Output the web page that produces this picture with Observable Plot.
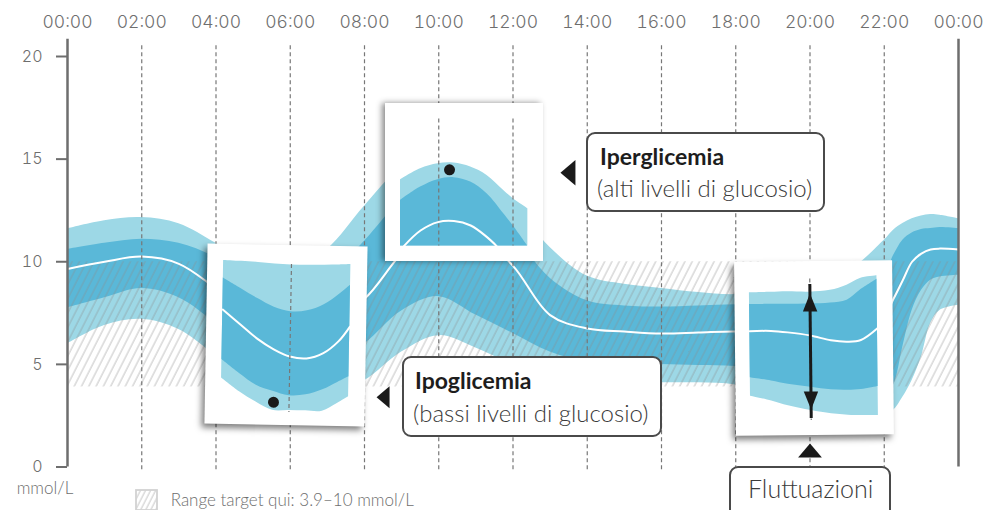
<!DOCTYPE html>
<html><head><meta charset="utf-8">
<script src="https://cdn.jsdelivr.net/npm/d3@7"></script>
<script src="https://cdn.jsdelivr.net/npm/@observablehq/plot@0.6"></script>
<style>
html,body{margin:0;padding:0;background:#fff;}
#wrap{position:relative;width:985px;height:510px;overflow:hidden;font-family:Lato,sans-serif;}
.inset{position:absolute;background:#fff;}
.inset svg{display:block;}
.callout{position:absolute;border:2px solid #4a4a4a;border-radius:9px;background:#fff;box-sizing:border-box;}
.callout .t{position:absolute;font-family:Lato,sans-serif;font-weight:700;font-size:23px;line-height:23px;color:#1d1d1d;white-space:nowrap;}
.callout .s{position:absolute;font-family:Lato,sans-serif;font-weight:300;font-size:24px;line-height:24px;color:#3a3a3a;white-space:nowrap;}
.note{position:absolute;font-family:Lato,sans-serif;font-weight:300;font-size:17px;line-height:17px;color:#6e6e6e;white-space:nowrap;}
[aria-label="x-axis tick label"]{font-weight:300;}
[aria-label="y-axis tick label"]{font-weight:300;}
</style></head><body><div id="wrap"></div>
<script>
// ---------- data ----------
const xTicks = [0, 2, 4, 6, 8, 10, 12, 14, 16, 18, 20, 22, 24];
const xTickLabels = ["00:00","02:00","04:00","06:00","08:00","10:00","12:00","14:00","16:00","18:00","20:00","22:00","00:00"];
const yTicks = [0, 5, 10, 15, 20];
const gridHours = [2, 4, 6, 8, 10, 12, 14, 16, 18, 20, 22];
const targetRange = [3.9, 10];

const hours = [0,1,2,3,4,5,6,7,8,9,10,11,12,13,14,15,16,17,18,19,20,21,22,22.25,22.5,22.75,23,23.25,23.5,24];
const p5  = [6.0,6.9,7.2,6.7,5.4,4.0,3.3,3.5,4.2,5.6,6.4,5.8,5.0,4.4,4.15,4.1,4.1,4.1,4.0,3.6,3.0,2.6,2.5,2.76,3.4,4.22,5.36,7.0,7.63,7.88];
const p25 = [7.75,8.25,8.7,8.25,7.0,5.6,4.9,5.0,6.0,7.6,8.3,7.4,6.5,5.6,5.1,5.0,5.0,4.95,4.9,4.6,4.3,4.0,3.5,4.0,5.85,7.63,8.6,9.1,9.26,9.34];
const p50 = [9.65,10.0,10.25,9.9,8.7,7.4,6.7,7.1,8.2,10.4,11.9,11.4,9.8,7.4,6.75,6.6,6.5,6.55,6.6,6.5,6.4,6.6,7.4,8.2,9.1,10.0,10.4,10.6,10.64,10.6];
const p75 = [10.6,10.9,11.1,10.9,10.2,9.0,8.4,9.2,11.0,13.0,14.1,13.6,11.4,9.2,8.1,7.85,7.8,7.85,7.9,8.0,8.3,8.7,9.4,10.3,11.05,11.4,11.57,11.62,11.67,11.62];
const p95 = [11.6,12.0,12.15,11.85,10.9,9.9,9.5,10.6,12.7,14.6,15.5,14.8,12.9,10.7,9.3,8.9,8.7,8.5,8.4,8.6,9.0,9.5,11.05,11.54,11.86,12.1,12.23,12.3,12.27,12.1];

// callout pointer anchors (hour, mmol/L)
const pointerHours = [13.48, 8.50, 20.0];
const pointerValues = [14.34, 3.40, 0.80];
const pointerRotate = [-90, -90, 0];
const pointerSize = [7.5, 6.5, 7];

// inset 1: hypoglycaemia zoom
const in1Hours = [4.17, 4.66, 5.11, 5.56, 6.0, 6.45, 6.9, 7.3, 7.6];
const in1P5  = [4.07, 3.4, 2.9, 2.5, 2.5, 2.5, 2.5, 2.9, 3.24];
const in1P25 = [4.99, 4.3, 3.74, 3.45, 3.24, 3.3, 3.57, 3.95, 4.24];
const in1P50 = [7.49, 6.75, 6.07, 5.55, 5.2, 5.12, 5.4, 6.0, 6.74];
const in1P75 = [9.07, 8.55, 8.07, 7.65, 7.44, 7.5, 7.82, 8.35, 8.82];
const in1P95 = [9.95, 9.92, 9.88, 9.82, 9.78, 9.78, 9.8, 9.82, 9.85];
const in1Dot = [5.58, 2.9];
const in1Rule = [6, 9.8, 2.4];

// inset 2: hyperglycaemia zoom
const in2Hours = [8.97, 9.51, 9.98, 10.41, 10.86, 11.3, 11.75, 12.0, 12.4];
const in2P75 = [11.85, 12.52, 12.89, 12.99, 12.77, 12.19, 11.19, 10.6, 9.57];
const in2P95 = [12.89, 13.44, 13.69, 13.72, 13.52, 13.1, 12.35, 11.95, 11.44];
const in2Floor = 9.57;
const in2MedHours = [9.06, 9.51, 9.98, 10.41, 10.86, 11.3, 11.56];
const in2P50 = [9.57, 10.35, 10.77, 10.82, 10.6, 10.02, 9.57];
const in2Dot = [10.29, 13.385];
const in2Rules = [10, 12];
const in2RuleSpan = [15.93, 9.57];

// inset 3: fluctuation zoom
const in3Hours = [18.37, 18.94, 19.39, 20.0, 20.55, 21.0, 21.36, 21.81];
const in3P5  = [4.0, 3.75, 3.5, 3.25, 3.08, 3.0, 2.98, 2.97];
const in3P25 = [4.92, 4.75, 4.58, 4.42, 4.28, 4.25, 4.28, 4.42];
const in3P50 = [7.25, 7.25, 7.17, 7.0, 6.75, 6.67, 6.75, 7.33];
const in3P75 = [8.58, 8.58, 8.58, 8.58, 8.62, 8.75, 9.25, 9.78];
const in3P95 = [9.17, 9.18, 9.2, 9.17, 9.25, 9.5, 9.83, 9.95];
const in3Rule = [20, 9.83, 2.75];
const in3Arrow = [20, 3.3, 9.1];

// ---------- style ----------
const LIGHT = "#9dd8e6";
const DARK = "#5ab8d8";
const GREY = "#6e6e6e";
const triangle = (ratio) => ({
  draw(ctx, size) {
    const r = Math.sqrt(size / Math.PI), hw = r * ratio;
    ctx.moveTo(0, -r); ctx.lineTo(hw, r); ctx.lineTo(-hw, r); ctx.closePath();
  }
});

const rows = hours.map((h, i) => ({h, p5: p5[i], p25: p25[i], p50: p50[i], p75: p75[i], p95: p95[i]}));
const pointers = pointerHours.map((h, i) => ({h, v: pointerValues[i], rot: pointerRotate[i], r: pointerSize[i]}));

const gridTop = 20.67, gridBottom = -0.14, axisTop = 20.84;

const main = Plot.plot({
  width: 985, height: 510,
  marginLeft: 67, marginRight: 27, marginTop: 56, marginBottom: 43.5,
  x: {domain: [0, 24], axis: null},
  y: {domain: [0, 20], axis: null},
  r: {type: "identity"},
  style: {fontFamily: "Inter, sans-serif", fontSize: "16px", background: "transparent", overflow: "visible"},
  marks: [
    Plot.areaY(rows, {x: "h", y1: "p5", y2: "p95", fill: LIGHT, curve: "catmull-rom"}),
    Plot.areaY(rows, {x: "h", y1: "p25", y2: "p75", fill: DARK, curve: "catmull-rom"}),
    Plot.rect([targetRange], {x1: xTicks[0], x2: xTicks[xTicks.length - 1], y1: d => d[0], y2: d => d[1], fill: "url(#hatch)"}),
    Plot.line(rows, {x: "h", y: "p50", stroke: "#fff", strokeWidth: 2, curve: "catmull-rom"}),
    Plot.ruleX(gridHours, {y1: gridBottom, y2: gridTop, stroke: "#777", strokeWidth: 1.2, strokeDasharray: "4,3"}),
    Plot.ruleX([xTicks[0], xTicks[xTicks.length - 1]], {y1: 0, y2: axisTop, stroke: GREY, strokeWidth: 2.5}),
    Plot.axisY({ticks: yTicks, label: null, tickSize: 11, tickPadding: 14, color: GREY, strokeWidth: 2, fontSize: 16}),
    Plot.axisX({anchor: "top", label: null, ticks: xTicks, tickSize: 0, tickPadding: 29, color: GREY, fontSize: 17.5,
      tickFormat: d => xTickLabels[xTicks.indexOf(d)]}),
    Plot.dot(pointers, {x: "h", y: "v", r: "r", rotate: "rot", symbol: triangle(1.7), fill: "#1a1a1a", stroke: "none"})
  ]
});
main.style.position = "absolute"; main.style.left = "0px"; main.style.top = "0px";
const ns = "http://www.w3.org/2000/svg";
const defs = document.createElementNS(ns, "defs");
defs.innerHTML = `<pattern id="hatch" width="6.5" height="10" patternUnits="userSpaceOnUse" patternTransform="rotate(27)"><line x1="1" y1="0" x2="1" y2="10" stroke="#8c8c8c" stroke-opacity="0.6" stroke-width="0.9"/></pattern>`;
main.insertBefore(defs, main.firstChild);
const wrap = document.getElementById("wrap");
wrap.appendChild(main);

// ---------- insets ----------
const xs = main.scale("x");
const pxPerHour = (xs.apply(24) - xs.apply(0)) / 24;
const pxPerUnit = 20;

function inset({left, top, w, h, v0, rotate, shadow, marks}) {
  const hLeft = xs.invert(left);
  const p = Plot.plot({
    width: w, height: h, margin: 0,
    x: {domain: [hLeft, hLeft + w / pxPerHour], axis: null},
    y: {domain: [v0, v0 + h / pxPerUnit], axis: null},
    r: {type: "identity"},
    style: {background: "transparent", overflow: "hidden"},
    marks
  });
  const div = document.createElement("div");
  div.className = "inset";
  Object.assign(div.style, {left: left + "px", top: top + "px", width: w + "px", height: h + "px",
    transform: `rotate(${rotate}deg)`, boxShadow: shadow});
  div.appendChild(p);
  wrap.appendChild(div);
}
const band = (hs, a, b) => hs.map((x, i) => ({x, a: typeof a === "number" ? a : a[i], b: b[i]}));
const dashed = {stroke: "#777", strokeWidth: 1.2, strokeDasharray: "4,3"};

inset({left: 206, top: 245, w: 160, h: 180, v0: 1.75, rotate: 1, shadow: "-3px 4px 6px rgba(0,0,0,0.5)", marks: [
  Plot.areaY(band(in1Hours, in1P5, in1P95), {x: "x", y1: "a", y2: "b", fill: LIGHT, curve: "catmull-rom"}),
  Plot.areaY(band(in1Hours, in1P25, in1P75), {x: "x", y1: "a", y2: "b", fill: DARK, curve: "catmull-rom"}),
  Plot.line(in1Hours.map((x, i) => ({x, y: in1P50[i]})), {x: "x", y: "y", stroke: "#fff", strokeWidth: 2, curve: "catmull-rom"}),
  Plot.ruleX([in1Rule[0]], {y1: in1Rule[1], y2: in1Rule[2], ...dashed}),
  Plot.dot([in1Dot], {x: d => d[0], y: d => d[1], r: 5.5, fill: "#1a1a1a"})
]});

inset({left: 385, top: 103, w: 158, h: 158, v0: 8.8, rotate: 0, shadow: "-3px 0px 6px rgba(0,0,0,0.45)", marks: [
  Plot.areaY(band(in2Hours, in2Floor, in2P95), {x: "x", y1: "a", y2: "b", fill: LIGHT, curve: "catmull-rom"}),
  Plot.areaY(band(in2Hours, in2Floor, in2P75), {x: "x", y1: "a", y2: "b", fill: DARK, curve: "catmull-rom"}),
  Plot.line(in2MedHours.map((x, i) => ({x, y: in2P50[i]})), {x: "x", y: "y", stroke: "#fff", strokeWidth: 2, curve: "catmull-rom"}),
  Plot.ruleX(in2Rules, {y1: in2RuleSpan[0], y2: in2RuleSpan[1], ...dashed}),
  Plot.dot([in2Dot], {x: d => d[0], y: d => d[1], r: 5.5, fill: "#1a1a1a"})
]});

inset({left: 734.5, top: 261, w: 158, h: 174, v0: 2, rotate: -0.6, shadow: "-3px 4px 6px rgba(0,0,0,0.5)", marks: [
  Plot.areaY(band(in3Hours, in3P5, in3P95), {x: "x", y1: "a", y2: "b", fill: LIGHT, curve: "catmull-rom"}),
  Plot.areaY(band(in3Hours, in3P25, in3P75), {x: "x", y1: "a", y2: "b", fill: DARK, curve: "catmull-rom"}),
  Plot.line(in3Hours.map((x, i) => ({x, y: in3P50[i]})), {x: "x", y: "y", stroke: "#fff", strokeWidth: 2, curve: "catmull-rom"}),
  Plot.ruleX([in3Rule[0]], {y1: in3Rule[1], y2: in3Rule[2], ...dashed}),
  Plot.ruleX([in3Arrow[0]], {y1: in3Arrow[1], y2: in3Arrow[2], stroke: "#1a1a1a", strokeWidth: 3, insetTop: 9, insetBottom: 9}),
  Plot.dot([in3Arrow], {x: d => d[0], y: d => d[2], dy: 9, r: 9, symbol: triangle(0.8), fill: "#1a1a1a"}),
  Plot.dot([in3Arrow], {x: d => d[0], y: d => d[1], dy: -9, r: 9, rotate: 180, symbol: triangle(0.8), fill: "#1a1a1a"})
]});

// ---------- callouts & notes ----------
function callout(left, top, w, h, title, sub, tPos, sPos, subSize) {
  const d = document.createElement("div");
  d.className = "callout";
  Object.assign(d.style, {left: left + "px", top: top + "px", width: w + "px", height: h + "px"});
  if (title) {
    const t = document.createElement("div"); t.className = "t"; t.textContent = title;
    Object.assign(t.style, {left: tPos[0] + "px", top: tPos[1] + "px"}); d.appendChild(t);
  }
  const s = document.createElement("div"); s.className = "s"; s.textContent = sub;
  Object.assign(s.style, {left: sPos[0] + "px", top: sPos[1] + "px"});
  if (subSize) { s.style.fontSize = subSize + "px"; s.style.lineHeight = subSize + "px"; }
  d.appendChild(s);
  wrap.appendChild(d);
}
callout(586, 132, 239, 80, "Iperglicemia", "(alti livelli di glucosio)", [12, 10.6], [9, 41.7]);
callout(402, 356, 260, 81, "Ipoglicemia", "(bassi livelli di glucosio)", [11, 10.6], [9, 42.7]);
callout(729, 466, 162, 70, null, "Fluttuazioni", null, [17, 7.8], 25);

function note(left, top, text) {
  const n = document.createElement("div"); n.className = "note"; n.textContent = text;
  Object.assign(n.style, {left: left + "px", top: top + "px"}); wrap.appendChild(n);
}
note(16.7, 479, "mmol/L");
note(170.7, 491, "Range target qui: 3.9–10 mmol/L");
const sw = document.createElementNS(ns, "svg");
sw.setAttribute("width", 23); sw.setAttribute("height", 22);
Object.assign(sw.style, {position: "absolute", left: "134.5px", top: "488.5px"});
sw.innerHTML = `<defs><pattern id="hatch2" width="4.5" height="10" patternUnits="userSpaceOnUse" patternTransform="rotate(27)"><line x1="1" y1="0" x2="1" y2="10" stroke="#bdbdbd" stroke-width="0.9"/></pattern></defs><rect x="1" y="1" width="21" height="20" fill="url(#hatch2)" stroke="#d2d2d2" stroke-width="1.8"/>`;
wrap.appendChild(sw);
</script></body></html>
